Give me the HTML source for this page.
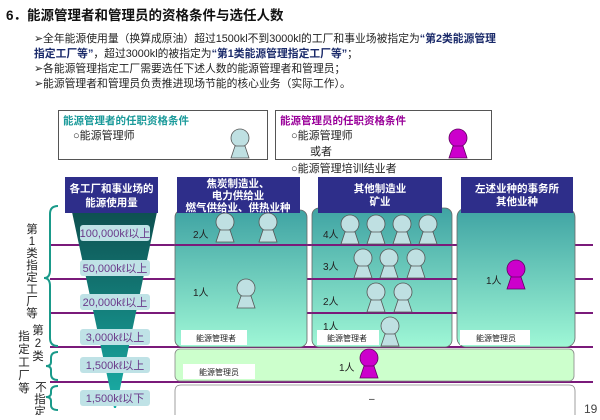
<!DOCTYPE html>
<html><head><meta charset="utf-8"><style>
body{margin:0;width:600px;height:415px;overflow:hidden;background:#fff;font-family:"Liberation Sans","Noto Sans CJK SC",sans-serif;}
</style></head><body>
<svg width="600" height="415" xmlns="http://www.w3.org/2000/svg" font-family="Liberation Sans, Noto Sans CJK SC, sans-serif">
<defs>
<linearGradient id="tg" x1="0" y1="0" x2="0" y2="1"><stop offset="0" stop-color="#3fa3a3"/><stop offset="1" stop-color="#9ff7d6"/></linearGradient>
<linearGradient id="fg" x1="0" y1="0" x2="0" y2="1"><stop offset="0" stop-color="#0e5050"/><stop offset="1" stop-color="#1ab0a8"/></linearGradient>
<g id="p"><circle cx="0" cy="-6" r="9" fill="#bfe0e2" stroke="#555" stroke-width="0.8"/><path d="M-5 2 L5 2 L9 14 L-9 14 Z" fill="#bfe0e2" stroke="#555" stroke-width="0.8"/></g>
<g id="m"><circle cx="0" cy="-6" r="9" fill="#cc00cc" stroke="#600060" stroke-width="0.8"/><path d="M-5 2 L5 2 L9 14 L-9 14 Z" fill="#cc00cc" stroke="#600060" stroke-width="0.8"/></g>
</defs>
<text x="6" y="20" font-size="13.5" font-weight="bold" fill="#111">6．能源管理者和管理员的资格条件与选任人数</text>
<g font-size="10.8" fill="#222">
<text x="34" y="42">➢全年能源使用量（换算成原油）超过1500kl不到3000kl的工厂和事业场被指定为<tspan fill="#1a2a6a" font-weight="bold">“第2类能源管理</tspan></text>
<text x="34" y="57"><tspan fill="#1a2a6a" font-weight="bold">指定工厂等”</tspan>，超过3000kl的被指定为<tspan fill="#1a2a6a" font-weight="bold">“第1类能源管理指定工厂等”</tspan>；</text>
<text x="34" y="72">➢各能源管理指定工厂需要选任下述人数的能源管理者和管理员；</text>
<text x="34" y="87">➢能源管理者和管理员负责推进现场节能的核心业务（实际工作）。</text>
</g>
<rect x="58.5" y="110.5" width="209" height="49" fill="#fff" stroke="#555"/>
<text x="63" y="124" font-size="10.5" font-weight="bold" fill="#1a9a9a">能源管理者的任职资格条件</text>
<text x="73" y="139" font-size="11" fill="#222">○能源管理师</text>
<use href="#p" x="240" y="144"/>
<rect x="275.5" y="110.5" width="216" height="49" fill="#fff" stroke="#555"/>
<text x="280" y="124" font-size="10.5" font-weight="bold" fill="#990099">能源管理员的任职资格条件</text>
<text x="291" y="139" font-size="11" fill="#222">○能源管理师</text>
<text x="310" y="155" font-size="11" fill="#222">或者</text>
<text x="291" y="172" font-size="11" fill="#222">○能源管理培训结业者</text>
<use href="#m" x="458" y="144"/>
<g stroke="#7a1a7a" stroke-width="2">
<line x1="50" y1="245" x2="593" y2="245"/><line x1="50" y1="279" x2="593" y2="279"/><line x1="50" y1="313" x2="593" y2="313"/><line x1="50" y1="347" x2="593" y2="347"/><line x1="50" y1="382" x2="593" y2="382"/>
</g>
<path d="M72 212 L157 212 L116 408 L114 408 Z" fill="url(#fg)"/>
<rect x="65" y="177" width="93" height="36" fill="#2e2e8a"/>
<text x="111.5" y="192" font-size="10.5" font-weight="bold" fill="#fff" text-anchor="middle">各工厂和事业场的</text>
<text x="111.5" y="206" font-size="10.5" font-weight="bold" fill="#fff" text-anchor="middle">能源使用量</text>
<g fill="#bfe2e6"><rect x="80" y="225" width="70" height="16" rx="3"/><rect x="80" y="260" width="70" height="16" rx="3"/><rect x="80" y="294" width="70" height="16" rx="3"/><rect x="80" y="329" width="70" height="16" rx="3"/><rect x="80" y="357" width="70" height="16" rx="3"/><rect x="80" y="390" width="70" height="16" rx="3"/></g>
<g font-size="11" fill="#6a3a8a" text-anchor="middle"><text x="115" y="237">100,000kℓ以上</text><text x="115" y="272">50,000kℓ以上</text><text x="115" y="306">20,000kℓ以上</text><text x="115" y="341">3,000kℓ以上</text><text x="115" y="369">1,500kℓ以上</text><text x="115" y="402">1,500kℓ以下</text></g>
<g fill="none" stroke="#1a9a8a" stroke-width="2">
<path d="M58 206 Q50 206 50 214 L50 270 Q50 278 44 278 Q50 278 50 286 L50 338 Q50 346 58 346"/>
<path d="M58 352 Q51 352 51 358 L51 362 Q51 366 46 366 Q51 366 51 370 L51 374 Q51 380 58 380"/>
<path d="M58 386 Q51 386 51 391 L51 393 Q51 397 46 397 Q51 397 51 401 L51 405 Q51 410 58 410"/>
</g>
<g font-size="11.5" fill="#222" text-anchor="middle">
<text x="32" y="233">第</text><text x="32" y="245">1</text><text x="32" y="257">类</text><text x="32" y="269">指</text><text x="32" y="281">定</text><text x="32" y="293">工</text><text x="32" y="305">厂</text><text x="32" y="317">等</text>
<text x="38" y="334">第</text><text x="38" y="347">2</text><text x="38" y="360">类</text>
<text x="24" y="340">指</text><text x="24" y="353">定</text><text x="24" y="366">工</text><text x="24" y="379">厂</text><text x="24" y="392">等</text>
<text x="41" y="391">不</text><text x="40" y="403">指</text><text x="40" y="415">定</text>
</g>
<rect x="175" y="210" width="132" height="137" rx="7" fill="url(#tg)" stroke="#666" stroke-width="0.8"/>
<line x1="175" y1="245" x2="307" y2="245" stroke="#7a1a7a" stroke-width="2"/>
<rect x="177" y="177" width="123" height="36" fill="#2e2e8a"/>
<g font-size="10.5" font-weight="bold" fill="#fff" text-anchor="middle"><text x="238" y="187">焦炭制造业、</text><text x="238" y="199">电力供给业</text><text x="238" y="211">燃气供给业、供热业种</text></g>
<text x="193" y="238" font-size="10" fill="#222">2人</text>
<use href="#p" x="225" y="228"/><use href="#p" x="268" y="228"/>
<text x="193" y="296" font-size="10" fill="#222">1人</text>
<use href="#p" x="246" y="294"/>
<rect x="181" y="330" width="66" height="15" fill="#fff"/><text x="196" y="341" font-size="8" fill="#222">能源管理者</text>
<rect x="312" y="208" width="140" height="139" rx="7" fill="url(#tg)" stroke="#666" stroke-width="0.8"/>
<g stroke="#7a1a7a" stroke-width="2"><line x1="312" y1="245" x2="452" y2="245"/><line x1="312" y1="279" x2="452" y2="279"/><line x1="312" y1="313" x2="452" y2="313"/></g>
<rect x="318" y="177" width="124" height="36" fill="#2e2e8a"/>
<g font-size="10.5" font-weight="bold" fill="#fff" text-anchor="middle"><text x="380" y="192">其他制造业</text><text x="380" y="205">矿业</text></g>
<g font-size="10" fill="#222"><text x="323" y="238">4人</text><text x="323" y="270">3人</text><text x="323" y="305">2人</text><text x="323" y="330">1人</text></g>
<use href="#p" x="350" y="230"/><use href="#p" x="376" y="230"/><use href="#p" x="402" y="230"/><use href="#p" x="428" y="230"/>
<use href="#p" x="363" y="264"/><use href="#p" x="389" y="264"/><use href="#p" x="416" y="264"/>
<use href="#p" x="376" y="298"/><use href="#p" x="403" y="298"/>
<use href="#p" x="390" y="332"/>
<rect x="317" y="330" width="62" height="15" fill="#fff"/><text x="327" y="341" font-size="8" fill="#222">能源管理者</text>
<rect x="457" y="208" width="118" height="139" rx="9" fill="url(#tg)" stroke="#666" stroke-width="0.8"/>
<rect x="461" y="177" width="112" height="36" fill="#2e2e8a"/>
<g font-size="10.5" font-weight="bold" fill="#fff" text-anchor="middle"><text x="517" y="192">左述业种的事务所</text><text x="517" y="205">其他业种</text></g>
<text x="486" y="284" font-size="10" fill="#222">1人</text>
<use href="#m" x="516" y="275"/>
<rect x="460" y="330" width="70" height="15" fill="#fff"/><text x="476" y="341" font-size="8" fill="#222">能源管理员</text>
<rect x="175" y="349" width="399" height="32" rx="5" fill="#ccffcc" stroke="#888" stroke-width="0.8"/>
<rect x="183" y="364" width="72" height="15" fill="#fff"/><text x="199" y="375" font-size="8" fill="#222">能源管理员</text>
<text x="339" y="371" font-size="10" fill="#222">1人</text>
<use href="#m" x="369" y="364"/>
<path d="M175 415 L175 391 Q175 385 181 385 L569 385 Q575 385 575 391 L575 415" fill="#fff" stroke="#888" stroke-width="0.8"/>
<text x="369" y="402" font-size="10" fill="#222">–</text>
<text x="584" y="413" font-size="12" fill="#444">19</text>
</svg>
</body></html>
